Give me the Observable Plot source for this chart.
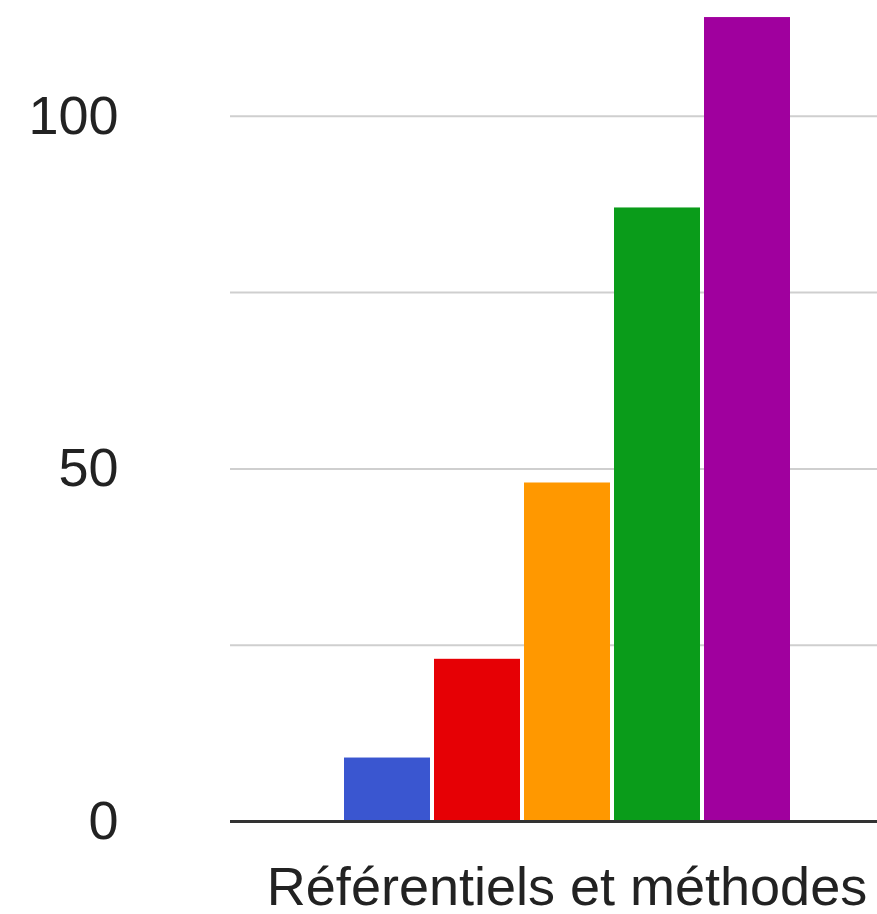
<!DOCTYPE html>
<html>
<head>
<meta charset="utf-8">
<script src="https://cdn.jsdelivr.net/npm/d3@7"></script>
<script src="https://cdn.jsdelivr.net/npm/@observablehq/plot@0.6"></script>
<style>
  html, body { margin: 0; padding: 0; overflow: hidden; background: white; }
  svg { max-width: none !important; display: block; }
</style>
</head>
<body>
<div id="chart"></div>
<script>
// One category, five series drawn side by side
const categories = ["Référentiels et méthodes"];
const series = ["Série 1", "Série 2", "Série 3", "Série 4", "Série 5"];
const values = [9, 23, 48, 87, 114];
const colors = ["#3a56d0", "#e60005", "#ff9800", "#0a9c1a", "#a0009e"];
const yTicks = [0, 50, 100];
const yGrid = [25, 50, 75, 100];

const data = series.map((s, i) => ({category: categories[0], series: s, value: values[i]}));

const chart = Plot.plot({
  width: 903,
  height: 914,
  marginLeft: 230,
  marginRight: 0,
  marginTop: 10,
  marginBottom: 93,
  style: {
    fontFamily: "'Liberation Sans', Arial, sans-serif",
    fontSize: "54px",
    color: "#222",
    background: "white",
    maxWidth: "none"
  },
  x: {domain: series, paddingInner: 0.05, paddingOuter: 1.25, axis: null},
  y: {domain: [0, 115], axis: null},
  color: {domain: series, range: colors},
  marks: [
    Plot.ruleY(yGrid, {stroke: "#cfcfcf", strokeWidth: 2}),
    Plot.barY(data, {x: "series", y: "value", fill: "series"}),
    Plot.ruleY([0], {stroke: "#333", strokeWidth: 3}),
    Plot.axisY({ticks: yTicks, tickSize: 0, tickPadding: 112, fontSize: 54, label: null, fill: "#222"}),
    Plot.text(categories, {
      text: d => d,
      frameAnchor: "bottom",
      lineAnchor: "top",
      dy: 45,
      fontSize: 54,
      fill: "#222"
    })
  ]
});

document.getElementById("chart").appendChild(chart);
</script>
</body>
</html>
